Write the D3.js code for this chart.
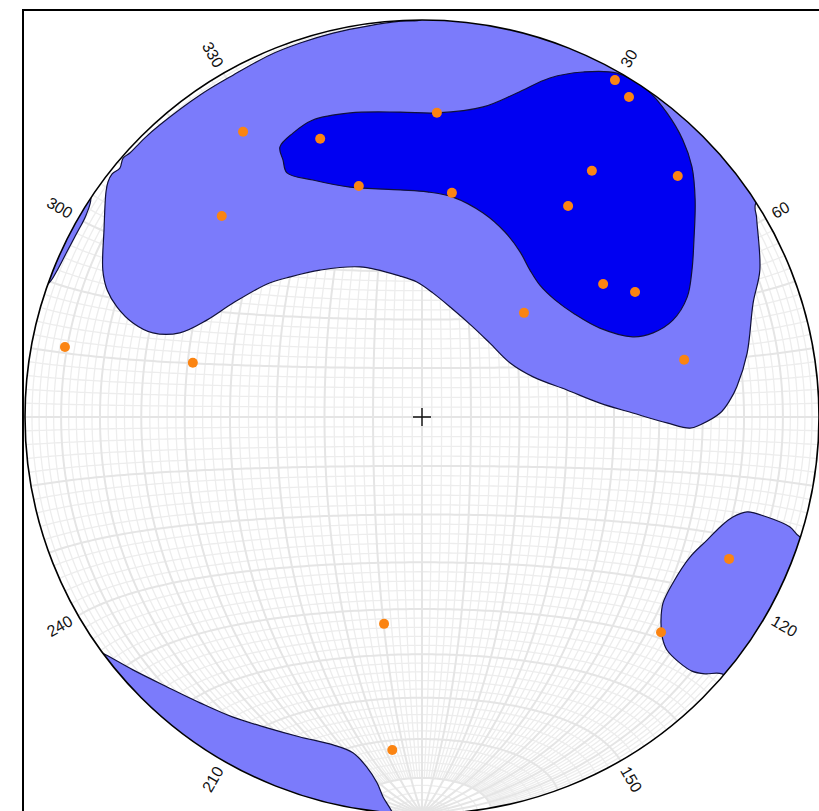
<!DOCTYPE html>
<html>
<head>
<meta charset="utf-8">
<script src="https://cdn.jsdelivr.net/npm/d3@7"></script>
<style>
  html, body { margin: 0; padding: 0; background: #fff; }
  svg { display: block; }
</style>
</head>
<body>
<svg id="chart" width="819" height="811"></svg>
<script>
// Poles to planes (lower hemisphere): trend and plunge in degrees
const poleTrend  = [327.9, 339.9, 2.8, 29.8, 32.9, 34.6, 46.7, 344.7, 7.6, 34.7, 315.1,
                    53.7, 59.6, 44.4, 281.1, 283.3, 77.7, 114.8, 132.0, 190.4, 185.1];
const polePlunge = [16.3, 26.3, 24.3, 2.5, 4.5, 25.6, 12.5, 39.5, 42.5, 35.6, 29.3,
                    42.8, 37.8, 59.9, 9.2, 40.4, 32.9, 15.9, 20.1, 46.0, 16.9];

// Azimuth labels around the primitive circle
const azimuthLabels = [30, 60, 120, 150, 210, 240, 300, 330];

// Density contours in net coordinates (unit primitive circle), lower level
const contourLow = [
  [[0.003,1.004],[0.003,1.063],[1.003,1.063],[0.930,0.600],[0.841,0.539],[0.843,0.500],[0.851,0.370],
   [0.834,0.287],[0.819,0.161],[0.793,0.076],[0.776,0.043],[0.751,0.010],[0.700,-0.020],
   [0.675,-0.028],[0.617,-0.015],[0.531,0.010],[0.448,0.035],[0.365,0.068],[0.280,0.101],
   [0.222,0.136],[0.171,0.186],[0.128,0.227],[0.071,0.277],[0.028,0.312],[-0.013,0.340],
   [-0.055,0.355],[-0.156,0.378],[-0.257,0.370],[-0.332,0.353],[-0.390,0.335],[-0.476,0.287],
   [-0.542,0.244],[-0.610,0.212],[-0.678,0.212],[-0.728,0.237],[-0.768,0.277],[-0.793,0.320],
   [-0.804,0.370],[-0.801,0.471],[-0.796,0.567],[-0.791,0.592],[-0.781,0.612],[-0.761,0.627],
   [-0.753,0.652],[-0.736,0.665],[-0.718,0.683],[-0.698,0.703],[-0.660,0.736],[-0.559,0.811],
   [-0.476,0.861],[-0.383,0.912],[-0.307,0.942],[-0.224,0.967],[-0.131,0.986],[-0.055,0.997]],
  [[-0.834,0.552],[-0.846,0.509],[-0.870,0.462],[-0.894,0.417],[-0.918,0.371],[-0.943,0.334],
   [-1.020,0.300],[-0.980,0.600],[-0.850,0.600]],
  [[0.718,-0.310],[0.751,-0.277],[0.783,-0.252],[0.819,-0.239],[0.869,-0.252],[0.927,-0.277],
   [0.952,-0.302],[1.028,-0.310],[0.851,-0.713],[0.756,-0.647],[0.713,-0.647],[0.680,-0.640],
   [0.650,-0.620],[0.617,-0.587],[0.605,-0.554],[0.602,-0.511],[0.607,-0.469],[0.632,-0.418],
   [0.675,-0.353]],
  [[-0.806,-0.594],[-0.728,-0.637],[-0.642,-0.680],[-0.559,-0.720],[-0.476,-0.756],[-0.390,-0.783],
   [-0.307,-0.806],[-0.224,-0.826],[-0.174,-0.846],[-0.139,-0.882],[-0.113,-0.922],[-0.098,-0.957],
   [-0.081,-0.985],[-0.065,-1.015],[-0.055,-1.066],[-0.559,-1.091],[-0.912,-0.713],[-0.849,-0.574]]
];

// Upper level
const contourHigh = [
  [[-0.358,0.680],[-0.325,0.715],[-0.275,0.748],[-0.181,0.766],[-0.055,0.768],[0.038,0.766],
   [0.154,0.781],[0.239,0.816],[0.322,0.854],[0.406,0.869],[0.491,0.866],[0.567,0.824],
   [0.617,0.766],[0.657,0.698],[0.680,0.630],[0.688,0.547],[0.685,0.446],[0.680,0.370],
   [0.668,0.302],[0.632,0.244],[0.582,0.212],[0.531,0.202],[0.448,0.224],[0.385,0.259],
   [0.335,0.295],[0.297,0.332],[0.272,0.370],[0.247,0.416],[0.209,0.466],[0.154,0.514],
   [0.078,0.554],[0.013,0.567],[-0.055,0.572],[-0.181,0.579],[-0.275,0.597],[-0.340,0.615],
   [-0.350,0.647]]
];

const levelColors = ["#7b7bfb", "#0000f2"];

const cx = 422, cy = 417, R = 397;
const svg = d3.select("#chart");

const x = d3.scaleLinear().domain([-1, 1]).range([cx - R, cx + R]);
const y = d3.scaleLinear().domain([-1, 1]).range([cy + R, cy - R]);
const line = d3.line().x(d => x(d[0])).y(d => y(d[1]));
const smoothRing = d3.line().x(d => x(d[0])).y(d => y(d[1]))
  .curve(d3.curveCatmullRomClosed.alpha(0.5));
const rad = Math.PI / 180;

// Lambert equal-area, lower hemisphere: vector (east, north, down) -> net coordinates
function lambert(e, n, d) {
  const s = Math.sqrt(1 + d);
  return [e / s, n / s];
}
function projectLine(trend, plunge) {
  const t = trend * rad, p = plunge * rad;
  return lambert(Math.cos(p) * Math.sin(t), Math.cos(p) * Math.cos(t), Math.sin(p));
}

svg.append("defs").append("clipPath").attr("id", "net-clip")
  .append("circle").attr("cx", cx).attr("cy", cy).attr("r", R);

svg.append("circle").attr("cx", cx).attr("cy", cy).attr("r", R).attr("fill", "#fff");

// Equatorial net: great circles through N/S and small circles about the N-S axis
const grid = svg.append("g").attr("clip-path", "url(#net-clip)").attr("fill", "none");
const minor = [], major = [];
for (let lam = 2; lam < 180; lam += 2) {
  const isMajor = lam % 10 === 0;
  const lim = isMajor ? 90 : 80;
  const pts = [];
  for (let b = -lim; b <= lim; b += 1) {
    const B = b * rad, L = lam * rad;
    pts.push(lambert(Math.cos(B) * Math.cos(L), Math.sin(B), Math.cos(B) * Math.sin(L)));
  }
  (isMajor ? major : minor).push(pts);
}
for (let b = -88; b <= 88; b += 2) {
  const isMajor = b % 10 === 0;
  const pts = [];
  for (let lam = 0; lam <= 180; lam += 1) {
    const B = b * rad, L = lam * rad;
    pts.push(lambert(Math.cos(B) * Math.cos(L), Math.sin(B), Math.cos(B) * Math.sin(L)));
  }
  (isMajor ? major : minor).push(pts);
}
grid.selectAll("path.minor").data(minor).join("path").attr("class", "minor")
  .attr("d", line).attr("stroke", "#ededed").attr("stroke-width", 1.3);
grid.selectAll("path.major").data(major).join("path").attr("class", "major")
  .attr("d", line).attr("stroke", "#e5e5e5").attr("stroke-width", 2);

// Contour fills
const contours = svg.append("g").attr("clip-path", "url(#net-clip)");
[contourLow, contourHigh].forEach((rings, i) => {
  contours.append("g").selectAll("path").data(rings).join("path")
    .attr("d", smoothRing)
    .attr("fill", levelColors[i])
    .attr("stroke", "#10103a")
    .attr("stroke-width", 1.2)
    .attr("stroke-linejoin", "round");
});

// Primitive circle
svg.append("circle").attr("cx", cx).attr("cy", cy).attr("r", R)
  .attr("fill", "none").attr("stroke", "#000").attr("stroke-width", 1.6);

// Poles
const poles = poleTrend.map((t, i) => projectLine(t, polePlunge[i]));
svg.append("g").selectAll("circle").data(poles).join("circle")
  .attr("cx", d => x(d[0])).attr("cy", d => y(d[1])).attr("r", 5)
  .attr("fill", "#fb8412");

// Centre cross
const c0 = [x(0), y(0)];
svg.append("path")
  .attr("d", `M${c0[0] - 9},${c0[1]}H${c0[0] + 9}M${c0[0]},${c0[1] - 9}V${c0[1] + 9}`)
  .attr("stroke", "#111").attr("stroke-width", 1.4);

// Azimuth labels, rotated along the radius
svg.append("g").selectAll("text").data(azimuthLabels).join("text")
  .attr("transform", a => {
    const r = 1 + 8 / R;
    const px = x(r * Math.sin(a * rad)), py = y(r * Math.cos(a * rad));
    const rot = a < 180 ? a - 90 : a + 90;
    return `translate(${px},${py}) rotate(${rot})`;
  })
  .attr("text-anchor", a => a < 180 ? "start" : "end")
  .attr("dominant-baseline", "central")
  .attr("font-family", "Liberation Sans, Arial, sans-serif")
  .attr("font-size", 16)
  .attr("fill", "#111")
  .text(a => a);

// Frame
svg.append("rect").attr("x", 23).attr("y", 10).attr("width", 900).attr("height", 900)
  .attr("fill", "none").attr("stroke", "#000").attr("stroke-width", 2);
</script>
</body>
</html>
